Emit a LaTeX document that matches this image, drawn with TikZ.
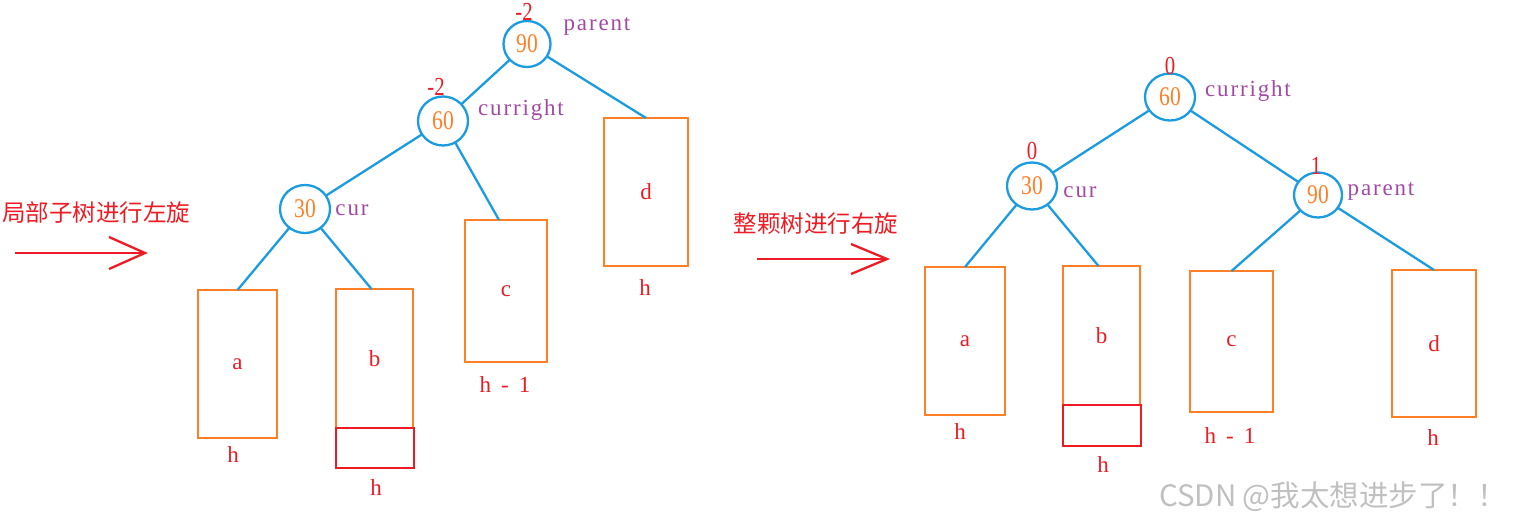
\documentclass[tikz,border=0pt]{standalone}
\usepackage{fontspec}
\setmainfont{Liberation Serif}
\newfontfamily\cjk{Noto Sans CJK SC}
\newfontfamily\ptrfont[LetterSpace=8]{Liberation Serif}
\usetikzlibrary{shapes.geometric}
\definecolor{tblue}{RGB}{27,155,224}
\definecolor{torange}{RGB}{255,127,39}
\definecolor{tred}{RGB}{237,28,36}
\definecolor{tpurple}{RGB}{163,73,164}
\definecolor{tgrey}{RGB}{192,192,192}
\newcommand{\nar}[1]{\scalebox{0.8}[1]{#1}}
\tikzset{
  tnode/.style={ellipse,draw=tblue,line width=2.3pt,inner sep=0pt,outer sep=0pt,
     text=torange,font=\fontsize{27}{27}\selectfont},
  subtree/.style={rectangle,draw=torange,line width=2.8pt,inner sep=0pt,outer sep=0pt,
     text=tred,font=\fontsize{23}{23}\selectfont},
  extra/.style={rectangle,draw=tred,line width=2.3pt,inner sep=0pt,outer sep=0pt},
  edge/.style={draw=tblue,line width=2.3pt},
  bal/.style={text=tred,font=\fontsize{26}{26}\selectfont,inner sep=0pt},
  ptr/.style={text=tpurple,font=\ptrfont\fontsize{23}{23}\selectfont,inner sep=0pt},
  hlab/.style={text=tred,font=\fontsize{23}{23}\selectfont,inner sep=0pt},
  cjklab/.style={text=tred,font=\cjk\fontsize{23.5}{23.5}\selectfont,inner sep=0pt},
  redarrow/.style={draw=tred,line width=2.3pt},
}
\newcommand{\hmone}{h\hspace{10pt}-\hspace{10pt}1}
\begin{document}
\begin{tikzpicture}[x=1pt,y=-1pt]
\useasboundingbox (0,0) rectangle (1515,525);
% ---------------- left tree ----------------
\node[tnode,minimum width=47pt,minimum height=46pt] (L90) at (527,44) {\nar{90}};
\node[tnode,minimum width=50pt,minimum height=49pt] (L60) at (443,121) {\nar{60}};
\node[tnode,minimum width=50pt,minimum height=48pt] (L30) at (305,209) {\nar{30}};
\node[subtree,minimum width=79pt,minimum height=148pt] (La) at (237.5,364) {a};
\node[subtree,minimum width=77pt,minimum height=139pt] (Lb) at (374.5,358.5) {b};
\node[extra,minimum width=78pt,minimum height=40pt] (Lbx) at (375,448) {};
\node[subtree,minimum width=82pt,minimum height=142pt] (Lc) at (506,291) {c};
\node[subtree,minimum width=84pt,minimum height=148pt] (Ld) at (646,192) {d};
\path[edge] (L90) -- (L60);
\path[edge] (L90) -- (Ld.north);
\path[edge] (L60) -- (L30);
\path[edge] (L60) -- ([xshift=-7pt]Lc.north);
\path[edge] (L30) -- (La.north);
\path[edge] (L30) -- ([xshift=-3pt]Lb.north);
\node[bal] (Lb90) at (524,12) {\nar{-2}};
\node[bal] (Lb60) at (436,87) {\nar{-2}};
\node[ptr] (Lp90) at (597,26) {parent};
\node[ptr] (Lp60) at (521,110) {curright};
\node[ptr] (Lp30) at (352,210) {cur};
\node[hlab] (Lha) at (233,455) {h};
\node[hlab] (Lhb) at (376,488) {h};
\node[hlab] (Lhc) at (505,385) {\hmone};
\node[hlab] (Lhd) at (645,288) {h};
\node[cjklab] (Ltxt) at (96,213) {局部子树进行左旋};
\coordinate (LA1) at (15,253);
\coordinate (LA2) at (145,253);
\path[redarrow] (LA1) -- (LA2);
\path[redarrow] ([shift={(-36,-16)}]LA2) -- (LA2) -- ([shift={(-36,16)}]LA2);
% ---------------- right tree ----------------
\node[tnode,minimum width=50pt,minimum height=47pt] (R60) at (1170,97) {\nar{60}};
\node[tnode,minimum width=50pt,minimum height=47pt] (R30) at (1032,186) {\nar{30}};
\node[tnode,minimum width=48pt,minimum height=45pt] (R90) at (1318,195) {\nar{90}};
\node[subtree,minimum width=80pt,minimum height=148pt] (Ra) at (965,341) {a};
\node[subtree,minimum width=77pt,minimum height=139pt] (Rb) at (1101.5,335.5) {b};
\node[extra,minimum width=78pt,minimum height=41pt] (Rbx) at (1102,425.5) {};
\node[subtree,minimum width=83pt,minimum height=141pt] (Rc) at (1231.5,341.5) {c};
\node[subtree,minimum width=84pt,minimum height=147pt] (Rd) at (1434,343.5) {d};
\path[edge] (R60) -- (R30);
\path[edge] (R60) -- (R90);
\path[edge] (R30) -- (Ra.north);
\path[edge] (R30) -- ([xshift=-3pt]Rb.north);
\path[edge] (R90) -- (Rc.north);
\path[edge] (R90) -- (Rd.north);
\node[bal] (Rb60) at (1170,66) {\nar{0}};
\node[bal] (Rb30) at (1032,151) {\nar{0}};
\node[bal] (Rb90) at (1316,166) {\nar{1}};
\node[ptr] (Rp60) at (1248,91) {curright};
\node[ptr] (Rp30) at (1080,192) {cur};
\node[ptr] (Rp90) at (1381,191) {parent};
\node[hlab] (Rha) at (960,432) {h};
\node[hlab] (Rhb) at (1103,465) {h};
\node[hlab] (Rhc) at (1230,436) {\hmone};
\node[hlab] (Rhd) at (1433,438) {h};
\node[cjklab] (Rtxt) at (816,224) {整颗树进行右旋};
\coordinate (RA1) at (757,259);
\coordinate (RA2) at (887,259);
\path[redarrow] (RA1) -- (RA2);
\path[redarrow] ([shift={(-36,-15)}]RA2) -- (RA2) -- ([shift={(-36,15)}]RA2);
% watermark
\node[text=tgrey,font=\cjk\fontsize{29.5}{29.5}\selectfont,inner sep=0pt] (wm) at (1333,497) {CSDN @我太想进步了！！};
\end{tikzpicture}
\end{document}
